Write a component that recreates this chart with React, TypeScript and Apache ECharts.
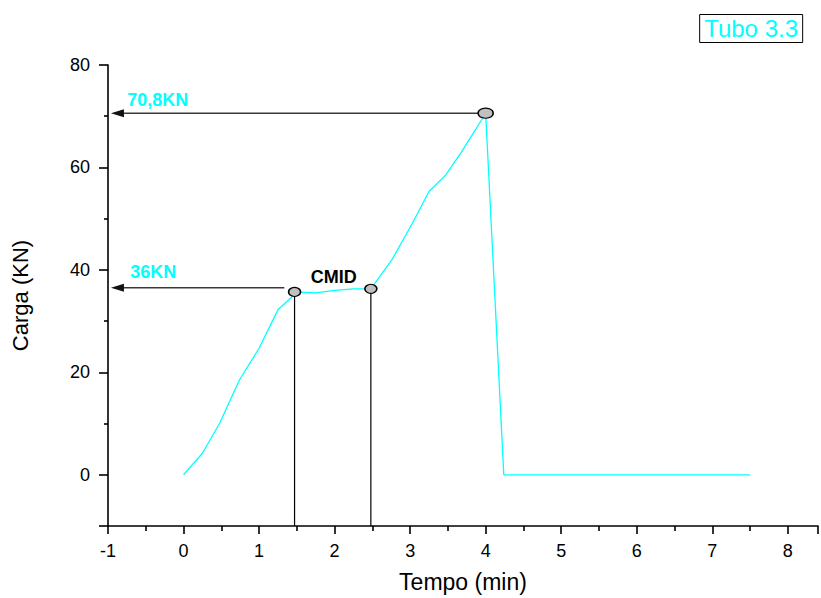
import React, { useEffect, useRef } from 'react';
import * as echarts from 'echarts';

// ---- data ----
const timeMin = [0, 0.25, 0.48, 0.74, 1.0, 1.25, 1.42, 1.47, 1.75, 2.0, 2.25, 2.48, 2.76, 3.03, 3.25, 3.47, 3.67, 3.78, 3.96, 4.0, 4.24, 7.5];
const loadKN = [0, 4.2, 10.1, 18.5, 24.7, 32.2, 34.5, 35.7, 35.5, 36.0, 36.3, 36.3, 42.0, 49.1, 55.3, 58.5, 62.8, 65.4, 69.6, 70.6, 0, 0];

// marked points [time, load]
const cmidStart = [1.47, 35.7];
const cmidEnd = [2.48, 36.3];
const peakPoint = [4.0, 70.6];

// arrow levels and ends
const peakArrowLevel = 70.6;
const cmidArrowLevel = 36.5;
const cmidArrowStartX = 1.335;
const arrowHeadX = -0.875;

// annotation texts and anchors [time, load]
const annotationTexts = ['70,8KN', '36KN', 'CMID'];
const annotationAnchors = [[-0.745, 73.2], [-0.705, 39.6], [1.685, 38.6]];
const annotationColors = ['#00ffff', '#00ffff', '#000000'];

const legendLabel = 'Tubo 3.3';
const xName = 'Tempo (min)';
const yName = 'Carga (KN)';

const xMin = -1;
const xMax = 8.4;
const yMin = -10;
const yMax = 80;

const FONT = "'Liberation Sans', Arial, Helvetica, sans-serif";

export default function App() {
  const ref = useRef<HTMLDivElement>(null);

  useEffect(() => {
    if (!ref.current) return;
    const chart = echarts.init(ref.current, undefined, { renderer: 'svg' });

    const isInt = (v: number) => Math.abs(v - Math.round(v)) < 1e-6;

    const option: any = {
      animation: false,
      backgroundColor: '#ffffff',
      title: {
        text: legendLabel,
        right: 18,
        top: 15,
        padding: [2, 5],
        borderColor: '#000',
        borderWidth: 1,
        backgroundColor: '#fff',
        textStyle: {
          color: '#00ffff',
          fontSize: 24,
          lineHeight: 23,
          fontWeight: 'normal',
          fontFamily: FONT,
        },
      },
      grid: { left: 108, right: 1, top: 65, bottom: 72 },
      xAxis: {
        type: 'value',
        min: xMin,
        max: xMax,
        interval: 1,
        name: xName,
        nameLocation: 'middle',
        nameGap: 44,
        nameTextStyle: { fontSize: 23, color: '#000', fontFamily: FONT },
        axisLine: { onZero: false, lineStyle: { color: '#000', width: 1.6 } },
        axisTick: { inside: false, length: 8, lineStyle: { color: '#000', width: 1.6 } },
        minorTick: { show: true, splitNumber: 2, length: 5, lineStyle: { color: '#000', width: 1.6 } },
        axisLabel: {
          margin: 16,
          fontSize: 18,
          color: '#000',
          fontFamily: FONT,
          formatter: (v: number) => (isInt(v) ? String(Math.round(v)) : ''),
        },
        splitLine: { show: false },
        minorSplitLine: { show: false },
      },
      yAxis: {
        type: 'value',
        min: yMin,
        max: yMax,
        minInterval: 20,
        maxInterval: 20,
        name: yName,
        nameLocation: 'middle',
        nameGap: 77,
        nameTextStyle: { fontSize: 22, color: '#000', fontFamily: FONT },
        axisLine: { onZero: false, lineStyle: { color: '#000', width: 1.6 } },
        axisTick: { inside: false, length: 9, lineStyle: { color: '#000', width: 1.6 } },
        minorTick: { show: true, splitNumber: 2, length: 4, lineStyle: { color: '#000', width: 1.6 } },
        axisLabel: {
          margin: 18,
          fontSize: 18,
          color: '#000',
          fontFamily: FONT,
          formatter: (v: number) => (v >= 0 ? String(v) : ''),
        },
        splitLine: { show: false },
        minorSplitLine: { show: false },
      },
      series: [
        {
          name: 'Carga',
          type: 'line',
          data: timeMin.map((t, i) => [t, loadKN[i]]),
          symbol: 'none',
          lineStyle: { color: '#00ffff', width: 1.3 },
          z: 3,
        },
        {
          type: 'line',
          data: [[cmidStart[0], cmidStart[1]], [cmidStart[0], yMin]],
          symbol: 'none',
          lineStyle: { color: '#000', width: 1.2 },
          z: 2,
        },
        {
          type: 'line',
          data: [[cmidEnd[0], cmidEnd[1]], [cmidEnd[0], yMin]],
          symbol: 'none',
          lineStyle: { color: '#000', width: 1.2 },
          z: 2,
        },
        {
          type: 'line',
          data: [[arrowHeadX, peakArrowLevel], [peakPoint[0], peakArrowLevel]],
          symbol: 'none',
          lineStyle: { color: '#3a3a3a', width: 1.5 },
          z: 2,
        },
        {
          type: 'line',
          data: [[arrowHeadX, cmidArrowLevel], [cmidArrowStartX, cmidArrowLevel]],
          symbol: 'none',
          lineStyle: { color: '#3a3a3a', width: 1.5 },
          z: 2,
        },
        {
          type: 'scatter',
          data: [[arrowHeadX, peakArrowLevel], [arrowHeadX, cmidArrowLevel]],
          symbol: 'triangle',
          symbolSize: [8, 13],
          symbolRotate: 90,
          itemStyle: { color: '#111', opacity: 1 },
          z: 4,
        },
        {
          type: 'scatter',
          data: [
            { value: cmidStart, symbolSize: [12, 9] },
            { value: cmidEnd, symbolSize: [12, 9] },
            { value: peakPoint, symbolSize: [15, 10] },
          ],
          symbol: 'circle',
          itemStyle: { color: '#c0c0c0', borderColor: '#000', borderWidth: 1.3, opacity: 1 },
          z: 5,
        },
        {
          type: 'scatter',
          symbolSize: 0,
          itemStyle: { opacity: 1 },
          data: annotationTexts.map((txt, i) => ({
            value: annotationAnchors[i],
            name: txt,
            label: { color: annotationColors[i] },
          })),
          label: {
            show: true,
            position: 'right',
            distance: 0,
            opacity: 1,
            formatter: (p: any) => p.name,
            fontSize: 18,
            fontWeight: 'bold',
            fontFamily: FONT,
          },
          z: 6,
        },
      ],
    };

    chart.setOption(option);
    return () => chart.dispose();
  }, []);

  return (
    <div
      ref={ref}
      style={{ position: 'absolute', left: 0, top: 0, width: 821, height: 598 }}
    />
  );
}
